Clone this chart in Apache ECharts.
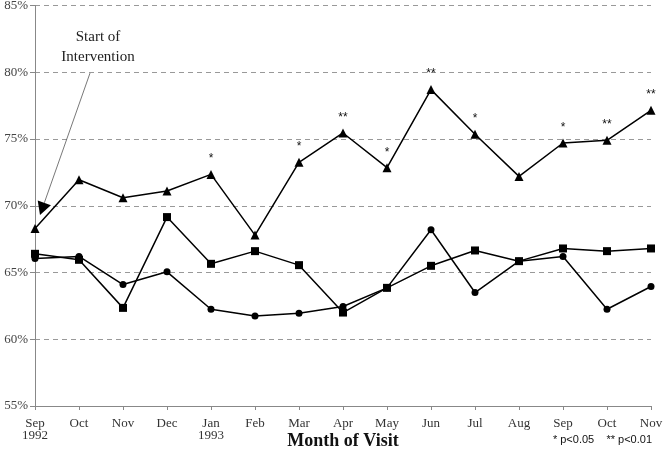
<!DOCTYPE html>
<html>
<head>
<meta charset="utf-8">
<script src="https://cdn.jsdelivr.net/npm/echarts@6/dist/echarts.min.js"></script>
<style>html,body{margin:0;padding:0;background:#fff;}#c{width:665px;height:453px;}</style>
</head>
<body>
<div id="c"></div>
<script>
const months = ['Sep\n1992','Oct','Nov','Dec','Jan\n1993','Feb','Mar','Apr','May','Jun','Jul','Aug','Sep','Oct','Nov'];
const triangleSeries = [68.3, 71.95, 70.6, 71.1, 72.35, 67.8, 73.25, 75.45, 72.85, 78.7, 75.35, 72.2, 74.7, 74.9, 77.15];
const squareSeries   = [66.4, 65.95, 62.35, 69.15, 65.65, 66.6, 65.55, 62.0, 63.85, 65.5, 66.65, 65.85, 66.8, 66.6, 66.8];
const circleSeries   = [66.05, 66.2, 64.1, 65.05, 62.25, 61.75, 61.95, 62.45, 63.85, 68.2, 63.5, 65.85, 66.2, 62.25, 63.95];
const significance   = ['', '', '', '', '*', '', '*', '**', '*', '**', '*', '', '*', '**', '**'];
const yTicks = {min: 55, max: 85, interval: 5};

const serif = '"Liberation Serif", "DejaVu Serif", serif';
const chart = echarts.init(document.getElementById('c'), null, {renderer: 'canvas'});

function lineSeries(name, data, symbol, size, labels) {
  return {
    name: name, type: 'line', data: data, symbol: symbol, symbolSize: size,
    showAllSymbol: true,
    lineStyle: {color: '#000', width: 1.5},
    itemStyle: {color: '#000'},
    label: labels ? {
      show: true, position: 'top', distance: 5,
      formatter: p => labels[p.dataIndex],
      fontFamily: 'Arial, "Liberation Sans", sans-serif', fontSize: 12, color: '#111'
    } : {show: false},
    emphasis: {disabled: true},
    animation: false, z: 3
  };
}

chart.setOption({
  animation: false,
  backgroundColor: '#fff',
  grid: {left: 35, right: 14, top: 5.5, bottom: 47, containLabel: false, outerBoundsMode: 'none'},
  xAxis: {
    type: 'category', data: months, boundaryGap: false,
    axisLine: {lineStyle: {color: '#888', width: 1}},
    axisTick: {show: true, alignWithLabel: true, length: 4, lineStyle: {color: '#888'}},
    axisLabel: {fontFamily: serif, fontSize: 13, color: '#333', margin: 12, lineHeight: 12, interval: 0},
    name: 'Month of Visit', nameLocation: 'middle', nameGap: 26, nameMoveOverlap: false,
    nameTextStyle: {fontFamily: serif, fontSize: 18, fontWeight: 'bold', color: '#111'}
  },
  yAxis: {
    type: 'value', min: yTicks.min, max: yTicks.max, interval: yTicks.interval,
    axisLine: {show: true, lineStyle: {color: '#888', width: 1}},
    axisTick: {show: true, length: 5, lineStyle: {color: '#888'}},
    axisLabel: {formatter: '{value}%', fontFamily: serif, fontSize: 13, color: '#444', margin: 7},
    splitLine: {show: true, lineStyle: {color: '#999', type: [5, 4], width: 1}}
  },
  series: [
    lineSeries('Intervention', triangleSeries, 'triangle', 9, significance),
    lineSeries('Comparison 1', squareSeries, 'rect', 8, null),
    lineSeries('Comparison 2', circleSeries, 'circle', 7, null)
  ]
});

// Annotation anchored to the first data point
const tip = chart.convertToPixel({xAxisIndex: 0, yAxisIndex: 0}, [0, 69.3]);
const tipX = tip[0] + 5, tipY = tip[1];
const startX = tipX + 50, startY = tipY - 142;
const dx = tipX - startX, dy = tipY - startY, len = Math.hypot(dx, dy);
const ux = dx / len, uy = dy / len, px = -uy, py = ux;
const headLen = 13, headHalf = 7;
const bx = tipX - ux * headLen, by = tipY - uy * headLen;

chart.setOption({
  graphic: [
    {type: 'line', shape: {x1: startX, y1: startY, x2: bx, y2: by}, style: {stroke: '#555', lineWidth: 0.8}, silent: true},
    {type: 'polygon', shape: {points: [[tipX, tipY], [bx + px * headHalf, by + py * headHalf], [bx - px * headHalf, by - py * headHalf]]}, style: {fill: '#000'}, silent: true},
    {type: 'text', x: 98, y: 30, style: {text: 'Start of', fontFamily: serif, fontSize: 15, fill: '#222', textAlign: 'center'}, silent: true},
    {type: 'text', x: 98, y: 50, style: {text: 'Intervention', fontFamily: serif, fontSize: 15, fill: '#222', textAlign: 'center'}, silent: true},
    {type: 'text', right: 13, top: 434, style: {text: '* p<0.05    ** p<0.01', fontFamily: 'Arial, "Liberation Sans", sans-serif', fontSize: 11, fill: '#111'}, silent: true}
  ]
});
</script>
</body>
</html>
